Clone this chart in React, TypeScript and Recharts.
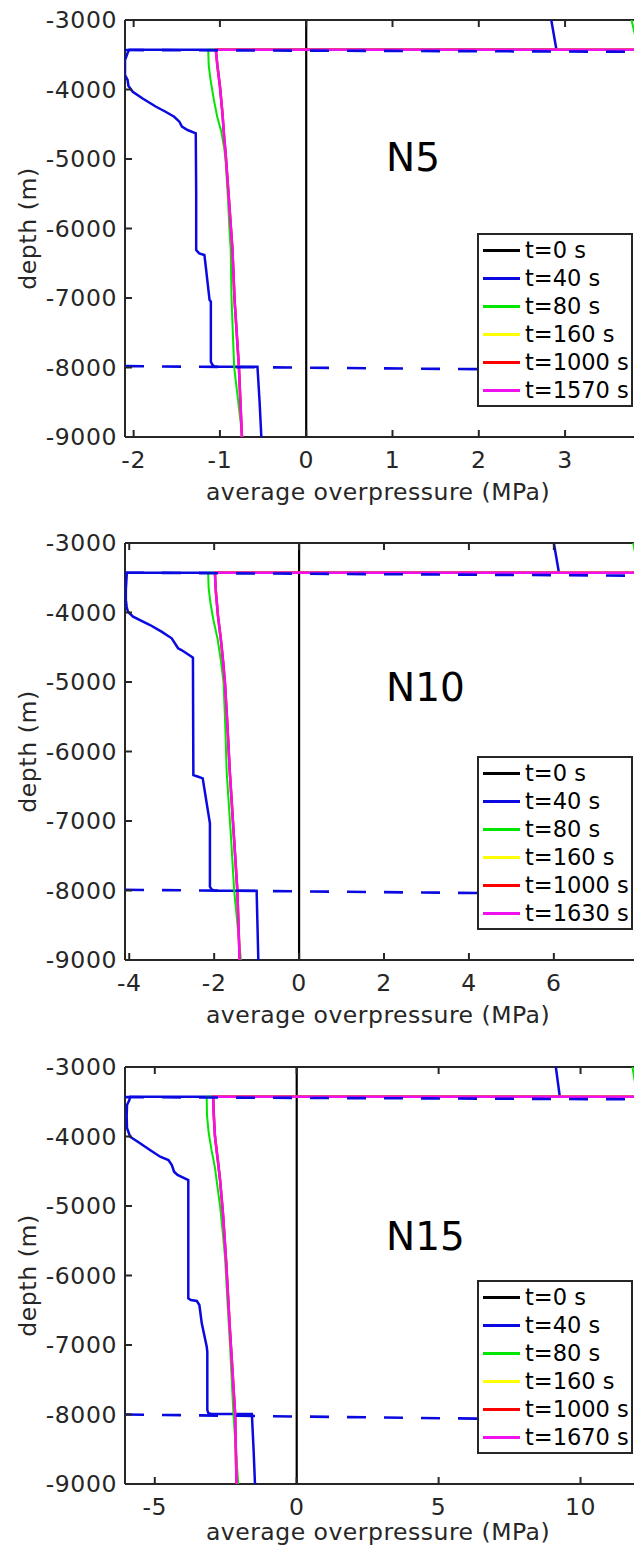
import React from 'react';
import { ScatterChart, Scatter, XAxis, YAxis } from 'recharts';

type Pt = { p: number; d: number };
const pts = (arr: number[][]): Pt[] => arr.map(([p, d]) => ({ p, d }));

// ---------- shared ----------
const depthTicks = [-9000, -8000, -7000, -6000, -5000, -4000, -3000];
const depthDomain: [number, number] = [-9000, -3000];
const seriesColors = ['#000000', '#0a0ae0', '#00e600', '#ffff00', '#ff0000', '#f010f0'];
const seriesWidths = [2.2, 2.5, 2, 2.5, 2.5, 2.5];
const xLabelText = 'average overpressure (MPa)';
const yLabelText = 'depth (m)';

// ---------- N5 ----------
const n5Name = 'N5';
const n5Domain: [number, number] = [-2.1, 4.1];
const n5Ticks = [-2, -1, 0, 1, 2, 3];
const n5Legend = ['t=0 s', 't=40 s', 't=80 s', 't=160 s', 't=1000 s', 't=1570 s'];
const n5T0 = [[0, -3000], [0, -9000]];
const n5T40 = [[2.84, -3000], [2.9, -3428], [-2.05, -3428], [-2.07, -3475], [-2.1, -3576], [-2.1, -3791], [-2.07, -3863], [-2.06, -3950], [-2.04, -3983], [-2.01, -4032], [-1.9, -4127], [-1.74, -4248], [-1.63, -4320], [-1.53, -4392], [-1.47, -4463], [-1.44, -4535], [-1.375, -4583], [-1.28, -4630], [-1.275, -5500], [-1.275, -6310], [-1.24, -6357], [-1.18, -6382], [-1.17, -6482], [-1.12, -7029], [-1.105, -7050], [-1.105, -7917], [-1.085, -7965], [-1.06, -7989], [-0.565, -7989], [-0.54, -8500], [-0.52, -9000]];
const n5T80 = [[3.77, -3000], [3.85, -3428], [-1.135, -3428], [-1.135, -3460], [-1.13, -3650], [-1.11, -3850], [-1.07, -4150], [-1.03, -4400], [-0.985, -4600], [-0.95, -4850], [-0.935, -5000], [-0.91, -5500], [-0.89, -6000], [-0.875, -6300], [-0.865, -7030], [-0.835, -7990], [-0.74, -9000]];
const n5Late = [[4.1, -3428], [-1.045, -3428], [-1.045, -3460], [-1.03, -3650], [-1.0, -3950], [-0.97, -4350], [-0.95, -4700], [-0.935, -4900], [-0.9, -5500], [-0.855, -6300], [-0.83, -7030], [-0.78, -7990], [-0.745, -9000]];
const n5DashTop = [[-2.1, -3432], [4.1, -3458]];
const n5DashBottom = [[-2.1, -7980], [4.1, -8047]];

// ---------- N10 ----------
const n10Name = 'N10';
const n10Domain: [number, number] = [-4.1, 8.5];
const n10Ticks = [-4, -2, 0, 2, 4, 6];
const n10Legend = ['t=0 s', 't=40 s', 't=80 s', 't=160 s', 't=1000 s', 't=1630 s'];
const n10T0 = [[0, -3000], [0, -9000]];
const n10T40 = [[6.0, -3000], [6.12, -3428], [-4.06, -3428], [-4.06, -3460], [-4.08, -3676], [-4.08, -3820], [-4.06, -3921], [-4.03, -3989], [-3.91, -4061], [-3.51, -4180], [-3.24, -4276], [-3.0, -4371], [-2.85, -4515], [-2.77, -4540], [-2.53, -4636], [-2.5, -4650], [-2.49, -6339], [-2.375, -6363], [-2.27, -6386], [-2.1, -7034], [-2.1, -7946], [-2.06, -7983], [-2.0, -8003], [-1.0, -8003], [-0.98, -8500], [-0.96, -9000]];
const n10T80 = [[7.87, -3000], [8.0, -3428], [-2.14, -3428], [-2.14, -3460], [-2.13, -3650], [-2.09, -3850], [-2.02, -4100], [-1.92, -4380], [-1.84, -4700], [-1.78, -5000], [-1.74, -5600], [-1.705, -6300], [-1.6, -7270], [-1.53, -7990], [-1.37, -9000]];
const n10Late = [[8.5, -3428], [-1.98, -3428], [-1.98, -3460], [-1.96, -3700], [-1.91, -4050], [-1.84, -4400], [-1.79, -4700], [-1.745, -5020], [-1.69, -5600], [-1.63, -6310], [-1.53, -7270], [-1.455, -7990], [-1.4, -9000]];
const n10DashTop = [[-4.1, -3427], [8.5, -3472]];
const n10DashBottom = [[-4.1, -7990], [8.5, -8060]];

// ---------- N15 ----------
const n15Name = 'N15';
const n15Domain: [number, number] = [-6.05, 12.8];
const n15Ticks = [-5, 0, 5, 10];
const n15Legend = ['t=0 s', 't=40 s', 't=80 s', 't=160 s', 't=1000 s', 't=1670 s'];
const n15T0 = [[0, -3000], [0, -9000]];
const n15T40 = [[9.13, -3000], [9.27, -3428], [-5.87, -3428], [-5.9, -3480], [-5.98, -3547], [-5.99, -3715], [-5.98, -3878], [-5.87, -4003], [-5.52, -4098], [-5.17, -4194], [-4.81, -4291], [-4.52, -4338], [-4.4, -4410], [-4.32, -4507], [-4.2, -4554], [-3.82, -4626], [-3.82, -6328], [-3.73, -6353], [-3.52, -6367], [-3.43, -6425], [-3.345, -6688], [-3.17, -7025], [-3.15, -7097], [-3.15, -7936], [-3.11, -7983], [-3.0, -7993], [-1.58, -7993], [-1.52, -8500], [-1.47, -9000]];
const n15T80 = [[11.83, -3000], [12.0, -3428], [-3.17, -3428], [-3.17, -3475], [-3.16, -3700], [-3.1, -3950], [-3.0, -4200], [-2.88, -4450], [-2.8, -4700], [-2.7, -5000], [-2.6, -5400], [-2.52, -5770], [-2.45, -6300], [-2.35, -7000], [-2.23, -7990], [-2.06, -9000]];
const n15Late = [[12.8, -3428], [-2.94, -3428], [-2.94, -3475], [-2.92, -3700], [-2.88, -4000], [-2.78, -4340], [-2.7, -4626], [-2.6, -5100], [-2.49, -5775], [-2.35, -6800], [-2.17, -7990], [-2.12, -9000]];
const n15DashTop = [[-6.05, -3434], [12.8, -3466]];
const n15DashBottom = [[-6.05, -8000], [12.8, -8090]];

// ---------- style ----------
const AX = '#262626';
const FONT = 'DejaVu Sans';
const TICK_FS = 23.5;

const NoDot = () => <g />;

const BottomTick = (props: any) => {
  const { x, y, payload } = props;
  return (
    <g>
      <line x1={x} x2={x} y1={y} y2={y - 7} stroke={AX} strokeWidth={2} />
      <text x={x} y={y + 31} textAnchor="middle" fontSize={TICK_FS} fontFamily={FONT} fill={AX} letterSpacing={0.6}>
        {String(payload.value)}
      </text>
    </g>
  );
};

const TopTick = (props: any) => {
  const { x, y } = props;
  return <line x1={x} x2={x} y1={y} y2={y + 7} stroke={AX} strokeWidth={2} />;
};

const LeftTick = (props: any) => {
  const { x, y, payload } = props;
  return (
    <g>
      <line x1={x} x2={x + 7} y1={y} y2={y} stroke={AX} strokeWidth={2} />
      <text x={x - 8} y={y + 8} textAnchor="end" fontSize={TICK_FS} fontFamily={FONT} fill={AX} letterSpacing={0.6}>
        {String(payload.value)}
      </text>
    </g>
  );
};

const makeXLabel = (dy: number) => (props: any) => {
  const vb = props.viewBox || { x: 125, y: 437 };
  return (
    <text x={378} y={vb.y + dy} textAnchor="middle" fontSize={TICK_FS} fontFamily={FONT} fill={AX} letterSpacing={0.5}>
      {xLabelText}
    </text>
  );
};

const YLabel = (props: any) => {
  const vb = props.viewBox || { y: 20, height: 417 };
  const cy = vb.y + vb.height / 2;
  return (
    <text x={36} y={cy} textAnchor="middle" fontSize={TICK_FS} fontFamily={FONT} fill={AX} letterSpacing={0.6} transform={`rotate(-90, 36, ${cy})`}>
      {yLabelText}
    </text>
  );
};

type PanelProps = {
  top: number;
  name: string;
  nameTop: number;
  labelDy: number;
  domain: [number, number];
  ticks: number[];
  legend: string[];
  series: number[][][];
  dashTop: number[][];
  dashBottom: number[][];
};

const Panel = ({ top, name, nameTop, labelDy, domain, ticks, legend, series, dashTop, dashBottom }: PanelProps) => (
  <div style={{ position: 'absolute', left: 0, top, width: 700, height: 530 }}>
    <ScatterChart width={700} height={530} margin={{ top: 10, right: 40, bottom: 63, left: 65 }}>
      <XAxis
        xAxisId="b"
        type="number"
        dataKey="p"
        orientation="bottom"
        domain={domain}
        ticks={ticks}
        interval={0}
        allowDataOverflow
        height={30}
        tickSize={0}
        tickMargin={0}
        tickLine={false}
        axisLine={{ stroke: AX, strokeWidth: 2 }}
        tick={BottomTick}
        label={makeXLabel(labelDy)}
      />
      <XAxis
        xAxisId="t"
        type="number"
        dataKey="p"
        orientation="top"
        domain={domain}
        ticks={ticks}
        interval={0}
        allowDataOverflow
        height={10}
        tickSize={0}
        tickMargin={0}
        tickLine={false}
        axisLine={{ stroke: AX, strokeWidth: 2 }}
        tick={TopTick}
      />
      <YAxis
        yAxisId="l"
        type="number"
        dataKey="d"
        domain={depthDomain}
        ticks={depthTicks}
        interval={0}
        allowDataOverflow
        width={60}
        tickSize={0}
        tickMargin={0}
        tickLine={false}
        axisLine={{ stroke: AX, strokeWidth: 2 }}
        tick={LeftTick}
        label={YLabel}
      />
      {series.map((s, i) => (
        <Scatter
          key={`s${i}`}
          xAxisId="b"
          yAxisId="l"
          data={pts(s)}
          fill="none"
          shape={NoDot}
          line={{ stroke: seriesColors[i], strokeWidth: seriesWidths[i], fill: 'none' }}
          isAnimationActive={false}
        />
      ))}
      {[dashTop, dashBottom].map((s, i) => (
        <Scatter
          key={`d${i}`}
          xAxisId="b"
          yAxisId="l"
          data={pts(s)}
          fill="none"
          shape={NoDot}
          line={{ stroke: seriesColors[1], strokeWidth: 2.6, strokeDasharray: '19 18', fill: 'none' }}
          isAnimationActive={false}
        />
      ))}
    </ScatterChart>
    <div
      style={{
        position: 'absolute',
        left: 386,
        top: nameTop,
        fontFamily: FONT,
        fontSize: 39,
        lineHeight: '39px',
        color: '#000',
        whiteSpace: 'nowrap',
      }}
    >
      {name}
    </div>
    <div
      style={{
        position: 'absolute',
        left: 477,
        top: 233,
        width: 156,
        height: 174,
        boxSizing: 'border-box',
        border: `2px solid ${AX}`,
        background: '#fff',
      }}
    >
      {legend.map((lab, i) => (
        <div
          key={lab}
          style={{
            position: 'absolute',
            left: 4,
            top: 1 + i * 28,
            height: 28,
            display: 'flex',
            alignItems: 'center',
            whiteSpace: 'nowrap',
          }}
        >
          <div style={{ width: 37, height: 3, background: seriesColors[i] }} />
          <span style={{ marginLeft: 5, fontFamily: FONT, fontSize: 22.5, lineHeight: '28px', color: '#000' }}>{lab}</span>
        </div>
      ))}
    </div>
  </div>
);

export default function App() {
  return (
    <div style={{ position: 'absolute', left: 0, top: 0, width: 634, height: 1553, overflow: 'hidden', background: '#fff' }}>
      <Panel
        top={0}
        name={n5Name}
        nameTop={138}
        labelDy={63}
        domain={n5Domain}
        ticks={n5Ticks}
        legend={n5Legend}
        series={[n5T0, n5T40, n5T80, n5Late, n5Late, n5Late]}
        dashTop={n5DashTop}
        dashBottom={n5DashBottom}
      />
      <Panel
        top={523}
        name={n10Name}
        nameTop={145}
        labelDy={63}
        domain={n10Domain}
        ticks={n10Ticks}
        legend={n10Legend}
        series={[n10T0, n10T40, n10T80, n10Late, n10Late, n10Late]}
        dashTop={n10DashTop}
        dashBottom={n10DashBottom}
      />
      <Panel
        top={1047}
        name={n15Name}
        nameTop={170}
        labelDy={56}
        domain={n15Domain}
        ticks={n15Ticks}
        legend={n15Legend}
        series={[n15T0, n15T40, n15T80, n15Late, n15Late, n15Late]}
        dashTop={n15DashTop}
        dashBottom={n15DashBottom}
      />
    </div>
  );
}
